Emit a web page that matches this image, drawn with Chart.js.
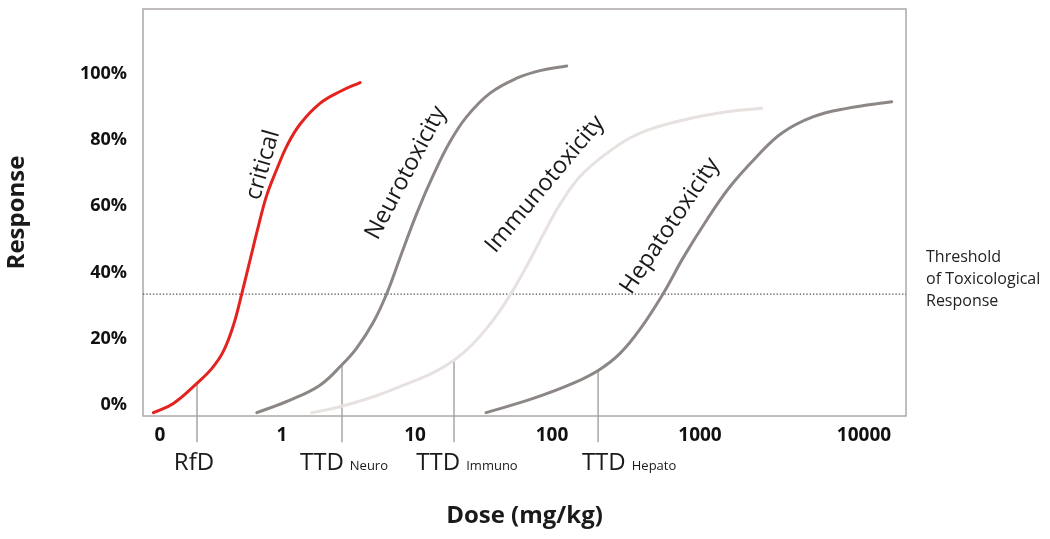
<!DOCTYPE html>
<html><head><meta charset="utf-8">
<script src="https://cdn.jsdelivr.net/npm/chart.js@4.4.1/dist/chart.umd.min.js"></script>
<style>html,body{margin:0;padding:0;background:#fff}canvas{display:block}</style>
</head><body>
<canvas id="c" width="1050" height="539"></canvas>
<script>
// x: position along the (log) dose axis, roughly one unit per decade; y: response in %
const xTickValues = [-0.904, 0, 0.985, 2.0, 3.096, 4.311];
const xTickLabels = ['0', '1', '10', '100', '1000', '10000'];
const yTickValues = [0, 20, 40, 60, 80, 100];

const criticalX = [-0.953, -0.805, -0.627, -0.521, -0.435, -0.361, -0.299, -0.237, -0.176, -0.113, -0.039, 0.035, 0.133, 0.281, 0.430, 0.578];
const criticalY = [-2.3, 0.5, 6.7, 11.0, 16.2, 24.0, 33.5, 43.8, 53.9, 63.4, 71.2, 78.2, 84.8, 91.1, 94.7, 97.4];

const neuroX = [-0.187, 0.059, 0.281, 0.442, 0.553, 0.676, 0.776, 0.874, 0.998, 1.121, 1.244, 1.368, 1.541, 1.739, 1.911, 2.109];
const neuroY = [-2.3, 1.5, 6.0, 12.1, 17.2, 25.0, 33.7, 44.5, 57.9, 69.5, 79.5, 87.1, 94.2, 98.7, 101.0, 102.4];

const immunoX = [0.220, 0.430, 0.676, 0.924, 1.121, 1.276, 1.417, 1.565, 1.689, 1.813, 1.936, 2.059, 2.207, 2.405, 2.652, 2.973, 3.294, 3.553];
const immunoY = [-2.3, -0.5, 2.5, 6.4, 9.8, 13.6, 18.6, 25.7, 33.2, 42.0, 51.6, 60.6, 69.0, 76.0, 82.1, 86.1, 88.6, 89.6];

const hepatoX = [1.511, 1.861, 2.158, 2.348, 2.504, 2.652, 2.824, 2.973, 3.146, 3.319, 3.516, 3.701, 3.936, 4.183, 4.516];
const hepatoY = [-2.3, 2.0, 6.6, 10.6, 15.6, 22.9, 33.7, 44.6, 55.9, 66.0, 75.0, 82.1, 87.1, 89.6, 91.6];

const thresholdValue = 33.5;
const thresholdText = ['Threshold', 'of Toxicological', 'Response'];

const markerNames = ['RfD', 'TTD', 'TTD', 'TTD'];
const markerSubs = ['', 'Neuro', 'Immuno', 'Hepato'];
const markerX = [-0.630, 0.444, 1.274, 2.341];
const markerY = [6.7, 12.1, 13.6, 10.6];

const curveNames = ['critical', 'Neurotoxicity', 'Immunotoxicity', 'Hepatotoxicity'];

// ---- layout / style (not data) ----
const X_MIN = -1.03, X_MAX = 4.622, Y_MIN = -3.3, Y_MAX = 119.6;
const DROP_BOTTOM = -11.2;
const FONT = '"Open Sans", "Noto Sans", sans-serif';
const curveLabelLayout = [
  {x: -0.141, y: 72.5, angle: 74},
  {x: 0.919, y: 70.1, angle: 62},
  {x: 1.948, y: 66.7, angle: 50},
  {x: 2.874, y: 54.1, angle: 56}
];
const markerLabelShift = [-3, 2, 13, 31];

const zip = (xs, ys) => xs.map((x, i) => ({x, y: ys[i]}));
const curveStyle = (color, w) => ({
  borderColor: color, borderWidth: w, pointRadius: 0, fill: false,
  tension: 0.4, clip: false, borderCapStyle: 'round'
});

const datasets = [
  {data: zip(criticalX, criticalY), ...curveStyle('#e2231e', 3)},
  {data: zip(neuroX, neuroY), ...curveStyle('#8c8684', 3)},
  {data: zip(immunoX, immunoY), ...curveStyle('#e7e2e0', 3)},
  {data: zip(hepatoX, hepatoY), ...curveStyle('#8c8684', 3)},
  {data: [{x: X_MIN, y: thresholdValue}, {x: X_MAX, y: thresholdValue}],
   borderColor: '#555', borderWidth: 1.4, borderDash: [1.4, 1.9], pointRadius: 0, fill: false, tension: 0}
];
markerX.forEach((mx, i) => {
  datasets.push({data: [{x: mx, y: markerY[i]}, {x: mx, y: DROP_BOTTOM}],
    borderColor: '#aaa6a4', borderWidth: 1.5, pointRadius: 0, fill: false, clip: false, tension: 0});
});

const annotations = {
  id: 'annotations',
  beforeDatasetsDraw(chart) {
    const {ctx, chartArea: a} = chart;
    ctx.save();
    ctx.strokeStyle = '#aca8a6';
    ctx.lineWidth = 1.5;
    ctx.strokeRect(a.left, a.top, a.right - a.left, a.bottom - a.top);
    ctx.restore();
  },
  afterDatasetsDraw(chart) {
    const {ctx, chartArea: a, scales: {x, y}} = chart;
    ctx.save();
    ctx.fillStyle = '#1a1a1a';
    ctx.font = '23.5px ' + FONT;
    ctx.textAlign = 'center';
    ctx.textBaseline = 'middle';
    curveNames.forEach((t, i) => {
      const L = curveLabelLayout[i];
      ctx.save();
      ctx.translate(x.getPixelForValue(L.x), y.getPixelForValue(L.y));
      ctx.rotate(-L.angle * Math.PI / 180);
      ctx.fillText(t, 0, 0);
      ctx.restore();
    });
    ctx.textAlign = 'left';
    ctx.textBaseline = 'alphabetic';
    const base = a.bottom + 54;
    markerNames.forEach((t, i) => {
      ctx.font = '24px ' + FONT;
      const w1 = ctx.measureText(t).width;
      let w2 = 0, gap = 0;
      if (markerSubs[i]) {
        ctx.font = '13px ' + FONT;
        w2 = ctx.measureText(markerSubs[i]).width;
        gap = 6;
      }
      const left = x.getPixelForValue(markerX[i]) + markerLabelShift[i] - (w1 + gap + w2) / 2;
      ctx.font = '24px ' + FONT;
      ctx.fillText(t, left, base);
      if (markerSubs[i]) {
        ctx.font = '13px ' + FONT;
        ctx.fillText(markerSubs[i], left + w1 + gap, base);
      }
    });
    ctx.font = '16px ' + FONT;
    ctx.fillStyle = '#222';
    const ty = y.getPixelForValue(thresholdValue);
    thresholdText.forEach((t, i) => ctx.fillText(t, a.right + 20, ty - 32 + i * 22));
    ctx.restore();
  }
};

new Chart(document.getElementById('c'), {
  type: 'line',
  data: {datasets},
  options: {
    responsive: false,
    animation: false,
    events: [],
    layout: {padding: {top: 9, right: 144, left: 0, bottom: 0}},
    plugins: {legend: {display: false}, tooltip: {enabled: false}},
    scales: {
      x: {
        type: 'linear', min: X_MIN, max: X_MAX,
        grid: {display: false, drawTicks: false},
        border: {display: false},
        afterBuildTicks: s => { s.ticks = xTickValues.map(v => ({value: v})); },
        afterFit: s => { s.height = 123; s.paddingLeft = 0; s.paddingRight = 0; },
        ticks: {
          autoSkip: false, maxRotation: 0, padding: 8, color: '#111',
          font: {family: FONT, size: 19, weight: 'bold'},
          callback: (v, i) => xTickLabels[i]
        },
        title: {display: true, text: 'Dose (mg/kg)', color: '#1a1a1a',
          font: {family: FONT, size: 24, weight: 'bold'}, padding: {top: 0, bottom: 8}}
      },
      y: {
        type: 'linear', min: Y_MIN, max: Y_MAX,
        grid: {display: false, drawTicks: false},
        border: {display: false},
        afterBuildTicks: s => { s.ticks = yTickValues.map(v => ({value: v})); },
        afterFit: s => { s.width = 143; s.paddingTop = 0; s.paddingBottom = 0; },
        ticks: {
          padding: 16, color: '#111',
          font: {family: FONT, size: 18, weight: 'bold'},
          callback: v => v + '%'
        },
        title: {display: true, text: 'Response', color: '#1a1a1a',
          font: {family: FONT, size: 24, weight: 'bold'}, padding: {top: 3, bottom: 0}}
      }
    }
  },
  plugins: [annotations]
});
</script>
</body></html>
